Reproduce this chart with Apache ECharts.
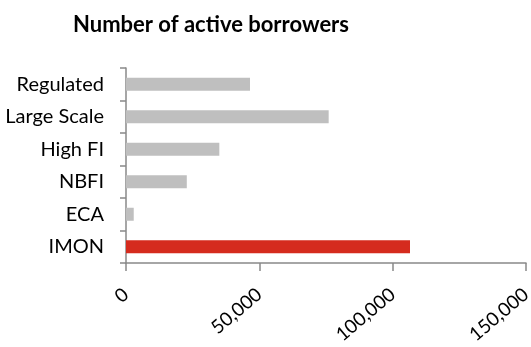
<!DOCTYPE html>
<html>
<head>
<meta charset="utf-8">
<script src="https://cdn.jsdelivr.net/npm/echarts@6/dist/echarts.min.js"></script>
<style>
  html, body { margin: 0; padding: 0; background: #fff; }
  #main { width: 531px; height: 347px; }
</style>
</head>
<body>
<div id="main"></div>
<script>
// data
var categories = ['Regulated', 'Large Scale', 'High FI', 'NBFI', 'ECA', 'IMON'];
var borrowers = [46500, 76000, 35000, 22800, 2900, 106500];
var barColors = ['#bfbfbf', '#bfbfbf', '#bfbfbf', '#bfbfbf', '#bfbfbf', '#d52b1e'];
var xTicks = [0, 50000, 150000];

var myChart = echarts.init(document.getElementById('main'));

var axisGrey = '#898989';
var fontName = 'Lato';

option = {
    animation: false,
    title: {
        text: 'Number of active borrowers',
        left: 68,
        top: 9,
        textStyle: {
            fontFamily: fontName,
            fontSize: 22,
            fontWeight: 'bold',
            color: '#000'
        }
    },
    grid: {
        left: 126,
        right: 5,
        top: 68,
        bottom: 84,
        outerBoundsMode: 'none'
    },
    xAxis: {
        type: 'value',
        min: xTicks[0],
        max: xTicks[2],
        interval: xTicks[1],
        splitLine: { show: false },
        axisLine: { show: true, lineStyle: { color: axisGrey, width: 1.5 } },
        axisTick: { show: true, length: 8, lineStyle: { color: axisGrey, width: 1.5 } },
        axisLabel: {
            rotate: 40,
            margin: 29,
            fontFamily: fontName,
            fontSize: 19,
            color: '#000',
            formatter: function (v) {
                return v.toString().replace(/\B(?=(\d{3})+(?!\d))/g, ',');
            }
        }
    },
    yAxis: {
        type: 'category',
        inverse: true,
        data: categories,
        axisLine: { show: true, lineStyle: { color: axisGrey, width: 1.5 } },
        axisTick: { show: true, length: 6, lineStyle: { color: axisGrey, width: 1.5 } },
        axisLabel: {
            margin: 22,
            fontFamily: fontName,
            fontSize: 20,
            color: '#000'
        }
    },
    series: [
        {
            type: 'bar',
            barWidth: 13,
            data: borrowers.map(function (v, i) {
                return { value: v, itemStyle: { color: barColors[i] } };
            })
        }
    ]
};

myChart.setOption(option);
</script>
</body>
</html>
